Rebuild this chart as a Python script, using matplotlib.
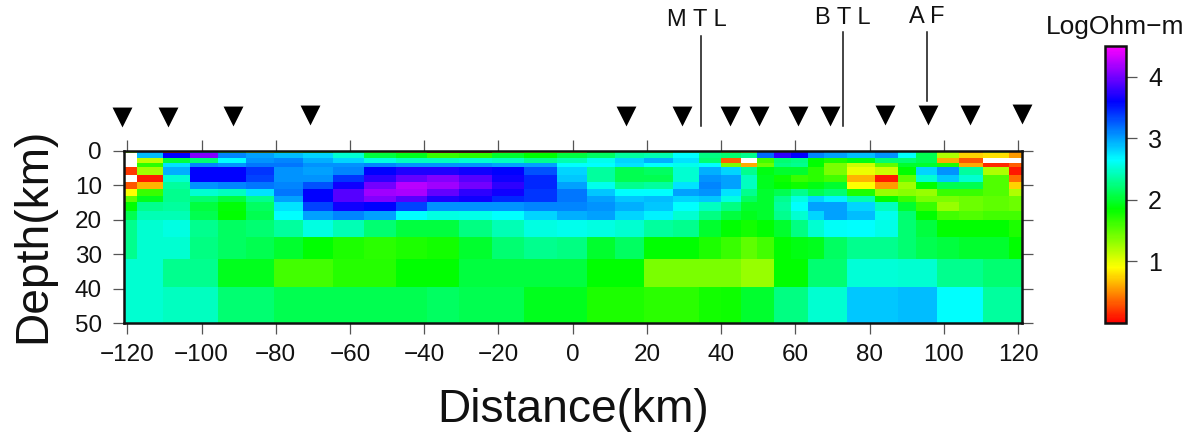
#!/usr/bin/env python3
import matplotlib
matplotlib.use('Agg')
import matplotlib.pyplot as plt
from matplotlib.colors import LinearSegmentedColormap
import numpy as np

plt.rcParams['font.family'] = ['Liberation Sans', 'DejaVu Sans']

nan = np.nan

# cell edges of the resistivity model
x_edges = [-120.9, -117.5, -110.3, -103.1, -95.6, -88.1, -80.4, -72.8, -64.6, -56.2, -47.5, -39.3,
           -30.6, -21.8, -13.0, -4.3, 3.8, 11.4, 19.2, 27.1, 34.1, 40.1, 45.3, 49.7, 54.3, 58.8,
           63.3, 67.7, 73.8, 81.5, 87.6, 92.5, 98.1, 104.2, 110.6, 117.6, 121.0]
y_edges = [0, 0.75, 2, 3.5, 4.6, 7, 9, 11.1, 13, 15, 17.5, 20, 25, 31.5, 39.5, 50]

# log resistivity, one list per column, top to bottom (nan = white cell)
columns = [
    [1.4, nan, nan, nan, 0.2, nan, 0.3, 0.9, 1.5, 1.85, 2.1, 2.3, 2.3, 2.5, 2.5],
    [3.1, 2.9, 1.15, 1.7, 1.25, 0.1, 0.65, 1.65, 1.95, 2.3, 2.42, 2.5, 2.5, 2.5, 2.5],
    [0.05, 3.6, 2.05, 2.75, 2.95, 2.5, 2.35, 2.3, 2.3, 2.35, 2.42, 2.55, 2.5, 2.3, 2.45],
    [3.1, 4.05, 2.2, 3.1, 3.6, 3.6, 3.05, 2.5, 2.2, 2.05, 2.1, 2.3, 2.25, 2.3, 2.45],
    [2.05, 3.1, 2.65, 3.05, 3.6, 3.6, 3.1, 2.45, 2.05, 1.88, 1.85, 2.15, 2.15, 1.95, 2.2],
    [1.25, 3.0, 3.05, 3.15, 3.4, 3.35, 3.15, 2.75, 2.3, 2.15, 2.1, 2.2, 2.1, 1.95, 2.2],
    [1.6, 2.9, 3.1, 3.15, 3.05, 3.05, 3.1, 3.15, 3.0, 2.75, 2.65, 2.35, 2.0, 1.6, 2.1],
    [1.85, 2.8, 2.95, 3.05, 3.0, 3.05, 3.3, 3.6, 3.6, 3.35, 3.0, 2.55, 1.85, 1.6, 2.1],
    [2.25, 2.5, 2.8, 3.05, 3.1, 3.4, 3.65, 3.9, 3.9, 3.65, 3.1, 2.42, 1.75, 1.72, 2.1],
    [1.4, 2.05, 2.55, 3.1, 3.6, 3.75, 4.0, 4.15, 4.05, 3.6, 3.0, 2.2, 1.7, 1.72, 2.1],
    [0.65, 1.95, 2.45, 3.05, 3.7, 3.95, 4.25, 4.2, 3.9, 3.35, 2.65, 2.05, 1.75, 1.85, 2.1],
    [0.1, 1.65, 2.45, 3.05, 3.7, 4.05, 4.15, 3.95, 3.7, 3.05, 2.55, 2.05, 1.78, 1.85, 2.15],
    [0.1, 1.7, 2.5, 3.05, 3.65, 3.9, 4.0, 3.75, 3.65, 3.05, 2.58, 2.25, 2.0, 2.05, 2.1],
    [0.7, 2.0, 2.45, 3.0, 3.6, 3.65, 3.75, 3.65, 3.45, 3.05, 2.65, 2.42, 2.2, 2.05, 2.1],
    [1.0, 1.85, 2.3, 3.0, 3.3, 3.45, 3.45, 3.4, 3.4, 3.1, 2.8, 2.55, 2.3, 2.05, 1.95],
    [0.8, 2.05, 2.4, 2.65, 2.8, 2.85, 3.0, 3.15, 3.15, 3.1, 2.95, 2.6, 2.25, 2.05, 1.95],
    [1.75, 2.15, 2.6, 2.65, 2.35, 2.35, 2.6, 2.85, 3.0, 3.05, 3.0, 2.55, 2.0, 1.85, 1.75],
    [2.15, 2.35, 2.8, 2.75, 2.1, 2.1, 2.3, 2.65, 2.85, 2.95, 2.8, 2.5, 2.15, 1.85, 1.75],
    [1.65, 2.4, 2.95, 2.65, 2.15, 2.1, 2.35, 2.65, 2.9, 2.85, 2.7, 2.35, 1.85, 1.4, 1.7],
    [2.2, 2.65, 2.75, 2.6, 2.5, 2.5, 2.75, 3.0, 2.8, 2.65, 2.5, 2.3, 1.85, 1.4, 1.7],
    [2.35, 2.25, 2.2, 2.65, 2.95, 3.05, 3.1, 3.05, 2.85, 2.45, 2.25, 2.0, 1.75, 1.4, 1.78],
    [1.3, 2.2, 0.35, 1.4, 2.8, 3.0, 3.0, 2.75, 2.55, 2.25, 2.05, 1.85, 1.65, 1.4, 1.8],
    [1.0, 2.3, nan, 0.6, 2.3, 2.45, 2.45, 2.3, 2.15, 2.0, 1.95, 1.78, 1.5, 1.3, 2.0],
    [3.2, 3.2, 1.6, 1.45, 1.9, 1.95, 1.95, 2.0, 2.0, 2.0, 2.0, 1.85, 1.6, 1.3, 2.0],
    [3.9, 3.75, 2.2, 2.25, 2.0, 1.8, 1.85, 2.1, 2.3, 2.35, 2.3, 2.0, 1.85, 1.85, 2.25],
    [3.7, 3.6, 2.25, 2.3, 2.0, 1.65, 1.8, 2.3, 2.55, 2.65, 2.5, 2.25, 1.9, 1.85, 2.25],
    [3.2, 3.1, 1.85, 1.85, 1.7, 1.7, 1.9, 2.1, 2.8, 3.0, 2.8, 2.5, 1.95, 2.2, 2.5],
    [3.0, 3.0, 1.75, 1.4, 1.4, 1.6, 2.0, 2.2, 2.7, 3.0, 3.0, 2.62, 2.15, 2.2, 2.5],
    [3.0, 2.9, 1.9, 1.1, 0.98, 0.65, 0.9, 1.75, 2.4, 2.8, 2.9, 2.65, 2.3, 2.52, 2.85],
    [3.1, 3.05, 2.2, 1.5, 1.1, 0.1, 0.55, 1.3, 1.85, 2.45, 2.6, 2.58, 2.3, 2.52, 2.85],
    [2.7, 2.65, 2.2, 2.0, 1.85, 1.5, 1.25, 1.35, 1.65, 2.0, 2.2, 2.2, 2.2, 2.5, 2.9],
    [2.1, 2.1, 2.1, 2.0, 2.8, 2.5, 1.85, 1.3, 1.4, 1.65, 1.85, 2.05, 2.1, 2.5, 2.9],
    [1.2, 1.2, 0.6, 1.75, 3.05, 2.85, 2.1, 1.65, 1.4, 1.3, 1.6, 1.85, 2.05, 2.3, 2.65],
    [0.5, 0.75, 0.3, 0.6, 2.35, 2.5, 2.1, 1.65, 1.45, 1.45, 1.55, 1.85, 2.0, 2.3, 2.65],
    [1.3, 0.8, nan, 0.15, 1.2, 1.55, 1.55, 1.55, 1.5, 1.5, 1.6, 1.85, 2.0, 2.2, 2.35],
    [0.5, 0.55, nan, 0.35, 0.1, 0.4, 0.75, 1.2, 1.45, 1.45, 1.6, 1.75, 1.85, 2.2, 2.35],
]

# stations above the section
station_x = [-121.5, -109.0, -91.6, -70.8, 14.4, 29.4, 42.5, 50.1, 60.6, 69.4, 84.1, 95.7, 107.2, 121.0]
station_y = [-9.8, -9.8, -10.0, -10.2, -10.0, -10.0, -10.0, -10.0, -10.0, -10.0, -10.2, -10.4, -10.4, -10.7]

# faults: name, position, line top, line bottom
fault_names = ['M T L', 'B T L', 'A F']
fault_x = [34.5, 72.9, 95.5]
fault_top = [-33.2, -34.4, -34.4]
fault_bottom = [-7.2, -7.2, -14.3]
fault_label_x = [33.5, 72.9, 95.5]
fault_label_y = [-37.9, -38.4, -38.8]

x_ticks = list(range(-120, 121, 20))
y_ticks = list(range(0, 51, 10))
cbar_ticks = [1, 2, 3, 4]

# rainbow scale of the original: red, yellow, green, cyan, blue, magenta
vmax = 4.5
cmap = LinearSegmentedColormap.from_list('resistivity', [
    (0.0, '#ff0000'), (0.9 / vmax, '#ffff00'), (1.85 / vmax, '#00ff00'),
    (2.65 / vmax, '#00ffff'), (3.6 / vmax, '#0000ff'), (1.0, '#ff00ff')])
cmap.set_bad('white')

W, H = 1194.0, 432.0
fig = plt.figure(figsize=(W / 100, H / 100), dpi=100)
ax = fig.add_axes([124 / W, 1 - 323.3 / H, (1021.7 - 124) / W, (323.3 - 150.7) / H])

values = np.ma.masked_invalid(np.array(columns).T)
mesh = ax.pcolormesh(x_edges, y_edges, values, cmap=cmap, vmin=0, vmax=vmax, shading='flat')
ax.set_xlim(x_edges[0], x_edges[-1])
ax.set_ylim(50, 0)

ax.set_xticks(x_ticks)
ax.set_yticks(y_ticks)
ax.tick_params(axis='both', direction='out', length=8, width=0.9, color='#555555',
               labelsize=17.5, labelcolor='#111111', top=True, right=True)
ax.tick_params(axis='x', pad=7)
ax.tick_params(axis='y', pad=8)
for spine in ax.spines.values():
    spine.set_linewidth(1.8)
    spine.set_color('#111111')

ax.scatter(station_x, station_y, marker='v', s=205, color='black', linewidths=0, clip_on=False, zorder=5)

for name, fx, top, bottom, lx, ly in zip(fault_names, fault_x, fault_top, fault_bottom, fault_label_x, fault_label_y):
    ax.plot([fx, fx], [top, bottom], color='#111111', lw=1.1, clip_on=False, zorder=4)
    ax.text(lx, ly, name, ha='center', va='center', fontsize=17, color='#111111')

fig.text(573 / W, 1 - 410 / H, 'Distance(km)', ha='center', va='center', fontsize=33.2, color='#111111')
fig.text(33 / W, 1 - 235 / H, 'Depth(km)', ha='center', va='center', rotation=90, fontsize=33.2, color='#111111')

# colour scale
cax = fig.add_axes([1105 / W, 1 - 323 / H, 21 / W, 277 / H])
cbar = fig.colorbar(mesh, cax=cax, ticks=cbar_ticks)
cbar.ax.tick_params(direction='out', length=8, width=0.9, color='#555555', labelsize=18,
                    labelcolor='#111111', pad=8)
cbar.ax.yaxis.get_major_ticks()[1].tick2line.set_color('#e8e8e8')
cbar.outline.set_linewidth(1.8)
cbar.outline.set_edgecolor('#111111')
fig.text(1115 / W, 1 - 27 / H, 'LogOhm\u2212m', ha='center', va='center', fontsize=19, color='#111111')

fig.savefig('out.png', dpi=100)
